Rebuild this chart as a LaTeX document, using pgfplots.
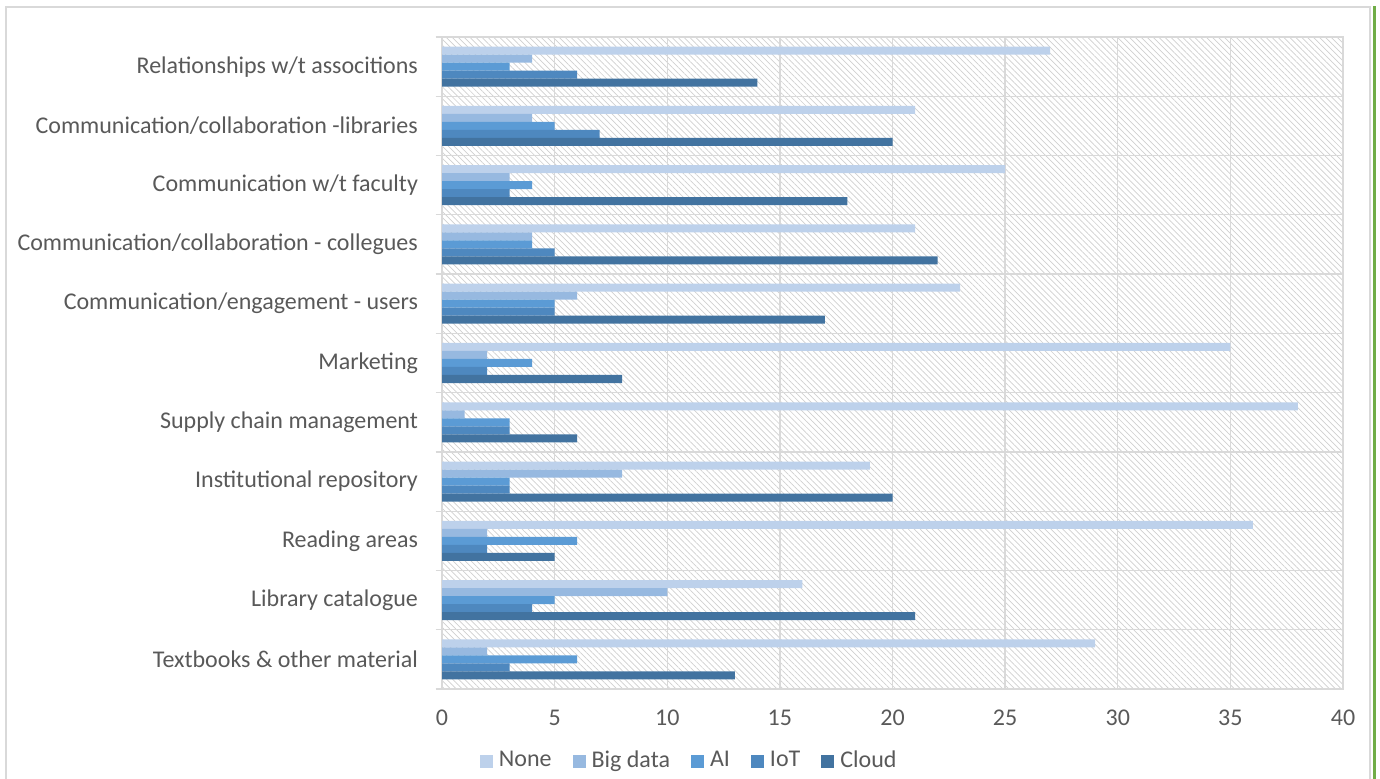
\documentclass[border=0pt]{standalone}
\usepackage{pgfplots}
\pgfplotsset{compat=1.18}
\usepackage{pgfplotstable}
\usepackage{fontspec}
\setmainfont{Carlito}
\usetikzlibrary{patterns.meta}

\definecolor{txt}{HTML}{595959}
\definecolor{gridc}{HTML}{D9D9D9}
\definecolor{hatchc}{HTML}{CFCFCF}
\definecolor{framegreen}{HTML}{70AD47}
\definecolor{cNone}{HTML}{BDD1EB}
\definecolor{cBig}{HTML}{97B9E0}
\definecolor{cAI}{HTML}{5B9BD5}
\definecolor{cIoT}{HTML}{4E88BF}
\definecolor{cCloud}{HTML}{4273A0}

% Number of respondents per activity (rows top to bottom) and technology
\pgfplotstableread{
id none big ai iot cloud
0  27   4   3  6   14
1  21   4   5  7   20
2  25   3   4  3   18
3  21   4   4  5   22
4  23   6   5  5   17
5  35   2   4  2   8
6  38   1   3  3   6
7  19   8   3  3   20
8  36   2   6  2   5
9  16   10  5  4   21
10 29   2   6  3   13
}\usage

\begin{document}
\begin{tikzpicture}
\path[use as bounding box] (0,0) rectangle (690pt,389.5pt);
\draw[gridc, line width=0.7pt] (3pt,0) -- (3pt,386pt) -- (685pt,386pt) -- (685pt,0);
\draw[framegreen, line width=1.5pt] (687pt,0) -- (687pt,386.3pt);
\begin{axis}[
  at={(221pt,45pt)}, anchor=south west,
  scale only axis, width=450.5pt, height=326pt,
  xbar, bar width=0.135,
  xmin=0, xmax=40, xtick={0,5,...,40},
  ymin=-0.5, ymax=10.5, y dir=reverse,
  ytick={0,...,10},
  yticklabels={
    {Relationships w/t associtions},
    {Communication/collaboration -libraries},
    {Communication w/t faculty},
    {Communication/collaboration - collegues},
    {Communication/engagement - users},
    {Marketing},
    {Supply chain management},
    {Institutional repository},
    {Reading areas},
    {Library catalogue},
    {Textbooks \& other material}},
  minor ytick={-0.5,0.5,...,10.5},
  xmajorgrids, yminorgrids,
  major grid style={gridc, line width=0.65pt},
  minor grid style={gridc, line width=0.65pt},
  axis line style={gridc, line width=0.65pt},
  tick pos=left, tick align=outside,
  major tick length=0pt, minor tick length=3.2pt,
  minor y tick style={gridc, line width=0.65pt},
  axis background/.style={pattern={Lines[angle=-45,distance=2.1pt,line width=0.35pt]}, pattern color=hatchc},
  /pgf/number format/assume math mode=true,
  ticklabel style={font=\fontsize{12}{14}\selectfont, text=txt},
  yticklabel style={xshift=-8.5pt},
  xticklabel style={yshift=-7pt},
  legend style={at={(0.2755,-0.11)}, anchor=center, draw=none, fill=none,
    legend columns=-1, font=\fontsize{12}{14}\selectfont, text=txt,
    /tikz/every odd column/.append style={column sep=1pt},
    /tikz/every even column/.append style={column sep=8.5pt}},
  legend image code/.code={\fill[#1] (0pt,-3.6pt) rectangle (6.5pt,2.9pt);},
]
\addplot[fill=cNone,  draw=none, bar shift=-0.27]  table[x=none,  y=id]{\usage};
\addplot[fill=cBig,   draw=none, bar shift=-0.135] table[x=big,   y=id]{\usage};
\addplot[fill=cAI,    draw=none, bar shift=0]      table[x=ai,    y=id]{\usage};
\addplot[fill=cIoT,   draw=none, bar shift=0.135]  table[x=iot,   y=id]{\usage};
\addplot[fill=cCloud, draw=none, bar shift=0.27]   table[x=cloud, y=id]{\usage};
\legend{None, Big data, AI, IoT, Cloud}
\end{axis}
\end{tikzpicture}
\end{document}
